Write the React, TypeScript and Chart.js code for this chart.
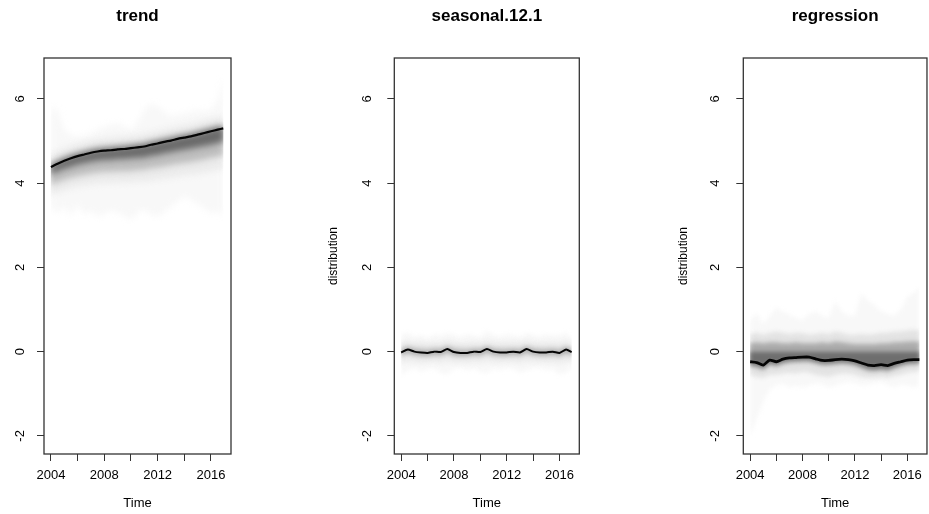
import React, { useEffect, useRef } from "react";
import { Chart, registerables } from "chart.js";

Chart.register(...registerables);

const FONT = '"Liberation Sans", Arial, Helvetica, sans-serif';

const TIME = [2004, 2004.5, 2005, 2005.5, 2006, 2006.5, 2007, 2007.5, 2008, 2008.5, 2009, 2009.5, 2010, 2010.5, 2011, 2011.5, 2012, 2012.5, 2013, 2013.5, 2014, 2014.5, 2015, 2015.5, 2016, 2016.5, 2016.92];
const X_TICKS = [2004, 2006, 2008, 2010, 2012, 2014, 2016];
const X_LABELS = [2004, 2008, 2012, 2016];
const Y_TICKS = [-2, 0, 2, 4, 6];

// ---- trend ----
const trendMedian = [4.38, 4.46, 4.53, 4.59, 4.64, 4.68, 4.72, 4.75, 4.77, 4.78, 4.80, 4.81, 4.83, 4.85, 4.87, 4.91, 4.94, 4.98, 5.01, 5.05, 5.08, 5.11, 5.15, 5.19, 5.23, 5.27, 5.30];
const trendHi4 = [4.42, 4.50, 4.57, 4.63, 4.68, 4.72, 4.76, 4.79, 4.81, 4.82, 4.84, 4.85, 4.87, 4.89, 4.91, 4.95, 4.98, 5.02, 5.05, 5.09, 5.12, 5.15, 5.19, 5.23, 5.27, 5.31, 5.34];
const trendHi3 = [4.48, 4.56, 4.63, 4.69, 4.74, 4.78, 4.82, 4.85, 4.87, 4.88, 4.90, 4.91, 4.93, 4.95, 4.97, 5.01, 5.04, 5.08, 5.11, 5.15, 5.18, 5.21, 5.25, 5.29, 5.33, 5.37, 5.40];
const trendHi2 = [4.68, 4.76, 4.83, 4.89, 4.94, 4.98, 5.02, 5.05, 5.07, 5.08, 5.10, 5.11, 5.13, 5.15, 5.17, 5.21, 5.24, 5.28, 5.31, 5.35, 5.38, 5.41, 5.45, 5.49, 5.53, 5.57, 5.60];
const trendHi1 = [5.81, 5.74, 5.26, 5.15, 5.10, 5.12, 5.17, 5.28, 5.34, 5.40, 5.42, 5.35, 5.26, 5.45, 5.74, 5.90, 5.82, 5.70, 5.58, 5.62, 5.66, 5.70, 5.74, 5.70, 5.74, 5.97, 6.53];
const trendLo4 = [4.20, 4.28, 4.34, 4.39, 4.44, 4.47, 4.51, 4.53, 4.55, 4.55, 4.57, 4.57, 4.59, 4.60, 4.61, 4.65, 4.67, 4.71, 4.73, 4.77, 4.79, 4.82, 4.85, 4.88, 4.91, 4.95, 4.97];
const trendLo3 = [3.95, 4.02, 4.08, 4.13, 4.17, 4.20, 4.23, 4.25, 4.27, 4.27, 4.28, 4.28, 4.29, 4.31, 4.32, 4.35, 4.37, 4.40, 4.43, 4.46, 4.48, 4.50, 4.53, 4.56, 4.60, 4.63, 4.65];
const trendLo2 = [3.70, 3.77, 3.83, 3.88, 3.92, 3.94, 3.97, 3.99, 4.00, 4.00, 4.01, 4.01, 4.02, 4.03, 4.03, 4.06, 4.08, 4.11, 4.13, 4.16, 4.18, 4.20, 4.22, 4.25, 4.28, 4.31, 4.33];
const trendLo1 = [3.43, 3.27, 3.47, 3.20, 3.50, 3.25, 3.35, 3.20, 3.28, 3.35, 3.30, 3.22, 3.12, 3.30, 3.38, 3.25, 3.20, 3.30, 3.45, 3.55, 3.70, 3.60, 3.50, 3.40, 3.27, 3.35, 3.20];

// ---- seasonal.12.1 ----
const seasMedian = [-0.02, 0.05, 0.00, -0.02, -0.03, 0.00, -0.01, 0.06, -0.01, -0.03, -0.03, 0.00, -0.01, 0.06, 0.00, -0.02, -0.02, 0.00, -0.02, 0.06, 0.00, -0.02, -0.02, 0.00, -0.03, 0.05, -0.01];
const seasHi4 = [0.02, 0.09, 0.04, 0.02, 0.01, 0.04, 0.03, 0.10, 0.03, 0.01, 0.01, 0.04, 0.03, 0.10, 0.04, 0.02, 0.02, 0.04, 0.02, 0.10, 0.04, 0.02, 0.02, 0.04, 0.01, 0.09, 0.03];
const seasHi3 = [0.12, 0.16, 0.13, 0.12, 0.11, 0.13, 0.12, 0.17, 0.13, 0.12, 0.11, 0.13, 0.12, 0.17, 0.13, 0.12, 0.12, 0.13, 0.12, 0.17, 0.13, 0.12, 0.12, 0.13, 0.11, 0.16, 0.12];
const seasHi2 = [0.25, 0.28, 0.24, 0.26, 0.22, 0.25, 0.24, 0.30, 0.26, 0.23, 0.24, 0.26, 0.24, 0.30, 0.27, 0.24, 0.25, 0.26, 0.24, 0.30, 0.26, 0.24, 0.25, 0.26, 0.24, 0.29, 0.25];
const seasHi1 = [0.40, 0.45, 0.35, 0.40, 0.32, 0.42, 0.38, 0.45, 0.40, 0.35, 0.42, 0.38, 0.35, 0.50, 0.40, 0.36, 0.42, 0.38, 0.35, 0.44, 0.40, 0.36, 0.42, 0.38, 0.40, 0.45, 0.35];
const seasLo4 = [-0.07, 0.00, -0.05, -0.07, -0.08, -0.05, -0.06, 0.01, -0.06, -0.08, -0.08, -0.05, -0.06, 0.01, -0.05, -0.07, -0.07, -0.05, -0.07, 0.01, -0.05, -0.07, -0.07, -0.05, -0.08, 0.00, -0.06];
const seasLo3 = [-0.15, -0.10, -0.14, -0.15, -0.16, -0.14, -0.15, -0.10, -0.15, -0.16, -0.16, -0.14, -0.15, -0.10, -0.14, -0.15, -0.15, -0.14, -0.15, -0.10, -0.14, -0.15, -0.16, -0.14, -0.16, -0.11, -0.15];
const seasLo2 = [-0.32, -0.26, -0.28, -0.30, -0.28, -0.27, -0.30, -0.26, -0.29, -0.28, -0.30, -0.27, -0.29, -0.26, -0.28, -0.29, -0.27, -0.28, -0.30, -0.26, -0.28, -0.27, -0.29, -0.28, -0.32, -0.27, -0.28];
const seasLo1 = [-0.58, -0.45, -0.40, -0.48, -0.42, -0.40, -0.50, -0.55, -0.42, -0.38, -0.45, -0.40, -0.48, -0.52, -0.40, -0.44, -0.38, -0.42, -0.50, -0.45, -0.40, -0.38, -0.45, -0.42, -0.55, -0.50, -0.40];

// ---- regression ----
const regMedian = [-0.24, -0.26, -0.32, -0.20, -0.24, -0.18, -0.15, -0.14, -0.13, -0.13, -0.17, -0.21, -0.21, -0.19, -0.18, -0.19, -0.22, -0.27, -0.32, -0.33, -0.31, -0.33, -0.28, -0.24, -0.20, -0.19, -0.19];
const regHi4 = [0, 0, 0, 0, 0, 0, 0, 0, 0, 0, 0, 0, 0, 0, 0, 0, 0, 0, 0, 0, 0, 0, 0, 0, 0, 0, 0];
const regHi3 = [0.20, 0.22, 0.20, 0.22, 0.22, 0.20, 0.20, 0.22, 0.20, 0.20, 0.20, 0.22, 0.20, 0.24, 0.22, 0.20, 0.18, 0.18, 0.18, 0.18, 0.20, 0.20, 0.22, 0.22, 0.24, 0.24, 0.24];
const regHi2 = [0.42, 0.45, 0.40, 0.45, 0.48, 0.45, 0.42, 0.45, 0.44, 0.40, 0.42, 0.45, 0.42, 0.48, 0.45, 0.40, 0.40, 0.42, 0.40, 0.42, 0.45, 0.45, 0.48, 0.48, 0.50, 0.52, 0.50];
const regHi1 = [0.75, 0.92, 0.65, 0.85, 1.05, 0.95, 0.88, 0.80, 0.75, 0.90, 0.95, 0.85, 0.80, 1.20, 0.95, 0.85, 0.85, 1.40, 1.20, 1.10, 0.95, 0.90, 0.85, 1.00, 1.30, 1.40, 1.52];
const regLo4 = [-0.29, -0.31, -0.37, -0.25, -0.29, -0.23, -0.20, -0.19, -0.18, -0.18, -0.22, -0.26, -0.26, -0.24, -0.23, -0.24, -0.27, -0.33, -0.39, -0.40, -0.38, -0.40, -0.34, -0.29, -0.25, -0.24, -0.24];
const regLo3 = [-0.36, -0.38, -0.44, -0.32, -0.36, -0.30, -0.27, -0.26, -0.25, -0.25, -0.29, -0.33, -0.33, -0.31, -0.30, -0.31, -0.34, -0.40, -0.46, -0.47, -0.45, -0.47, -0.41, -0.36, -0.32, -0.31, -0.31];
const regLo2 = [-0.55, -0.60, -0.62, -0.55, -0.55, -0.52, -0.50, -0.52, -0.48, -0.50, -0.55, -0.58, -0.60, -0.55, -0.52, -0.52, -0.55, -0.60, -0.62, -0.62, -0.60, -0.62, -0.58, -0.55, -0.50, -0.48, -0.48];
const regLo1 = [-2.00, -1.60, -1.20, -0.90, -0.80, -0.75, -0.85, -0.80, -0.85, -0.80, -0.75, -0.78, -0.85, -0.80, -0.75, -0.72, -0.75, -0.80, -0.78, -0.75, -0.72, -0.80, -0.85, -0.78, -0.80, -0.85, -0.80];

type Spec = {
  title: string;
  yTitle: string | null;
  left: number;
  width: number;
  areaLeft: number;
  areaRight: number;
  yLabX: number;
  yTitleX: number;
  median: number[];
  hi: number[][];
  lo: number[][];
  colors: string[];
  lineWidth: number;
  blur: number;
};

const SPECS: Spec[] = [
  {
    title: "trend", yTitle: null, left: 0, width: 310, areaLeft: 44, areaRight: 231, yLabX: 20.7, yTitleX: 0,
    median: trendMedian,
    hi: [trendHi1, trendHi2, trendHi3, trendHi4],
    lo: [trendLo1, trendLo2, trendLo3, trendLo4],
    colors: ["#f8f8f8", "#ebebeb", "#bdbdbd", "#6a6a6a"],
    lineWidth: 2.2,
    blur: 3,
  },
  {
    title: "seasonal.12.1", yTitle: "distribution", left: 310, width: 310, areaLeft: 84.3, areaRight: 269.3, yLabX: 57, yTitleX: 24,
    median: seasMedian,
    hi: [seasHi1, seasHi2, seasHi3, seasHi4],
    lo: [seasLo1, seasLo2, seasLo3, seasLo4],
    colors: ["#f8f8f8", "#efefef", "#d9d9d9", "#a2a2a2"],
    lineWidth: 2,
    blur: 2,
  },
  {
    title: "regression", yTitle: "distribution", left: 620, width: 309, areaLeft: 123.3, areaRight: 308.3, yLabX: 95.8, yTitleX: 63.3,
    median: regMedian,
    hi: [regHi1, regHi2, regHi3, regHi4],
    lo: [regLo1, regLo2, regLo3, regLo4],
    colors: ["#f8f8f8", "#e3e3e3", "#acacac", "#6e6e6e"],
    lineWidth: 2.8,
    blur: 2,
  },
];

function Panel({ spec }: { spec: Spec }) {
  const ref = useRef<HTMLCanvasElement>(null);

  useEffect(() => {
    const canvas = ref.current;
    if (!canvas) return;
    const mk = (arr: number[]) => arr.map((y, i) => ({ x: TIME[i], y }));
    const band = (arr: number[], color: string, fill: any) => ({
      data: mk(arr),
      borderColor: "rgba(0,0,0,0)",
      borderWidth: 0,
      backgroundColor: color,
      fill,
      pointRadius: 0,
      tension: 0,
    });
    const datasets: any[] = [
      {
        data: mk(spec.median),
        borderColor: "#050505",
        borderWidth: spec.lineWidth,
        fill: false,
        pointRadius: 0,
        tension: 0.2,
      },
    ];
    for (let k = 3; k >= 0; k--) {
      datasets.push(band(spec.hi[k], spec.colors[k], "+1"));
      datasets.push(band(spec.lo[k], spec.colors[k], false));
    }

    // soften the edges of the quantile bands (not the median line)
    const blurPlugin = {
      id: "bandBlur",
      beforeDatasetsDraw(chart: any) {
        chart.ctx.filter = `blur(${spec.blur}px)`;
      },
      afterDatasetDraw(chart: any, args: any) {
        if (args.index === 1) chart.ctx.filter = "none";
      },
      afterDatasetsDraw(chart: any) {
        chart.ctx.filter = "none";
      },
    };

    const boxPlugin = {
      id: "rbox",
      afterDraw(chart: any) {
        const { ctx, chartArea } = chart;
        const ys = chart.scales.y;
        ctx.save();
        ctx.filter = "none";
        ctx.strokeStyle = "#333";
        ctx.lineWidth = 1.3;
        ctx.strokeRect(chartArea.left, chartArea.top, chartArea.right - chartArea.left, chartArea.bottom - chartArea.top);
        ctx.fillStyle = "#000";
        ctx.font = `13px ${FONT}`;
        ctx.textAlign = "center";
        ctx.textBaseline = "middle";
        Y_TICKS.forEach((v) => {
          const y = ys.getPixelForValue(v);
          ctx.save();
          ctx.translate(spec.yLabX, y);
          ctx.rotate(-Math.PI / 2);
          ctx.fillText(String(v), 0, 0);
          ctx.restore();
        });
        ctx.restore();
      },
    };

    const chart = new Chart(canvas, {
      type: "line",
      data: { datasets },
      options: {
        responsive: false,
        animation: false,
        devicePixelRatio: 1,
        events: [],
        layout: { padding: { left: 0, right: spec.width - spec.areaRight, top: 0, bottom: 0 } },
        plugins: {
          legend: { display: false },
          tooltip: { enabled: false },
          title: {
            display: true,
            text: spec.title,
            fullSize: false,
            color: "#000",
            font: { family: FONT, size: 17, weight: "bold" },
            padding: { top: 6.5, bottom: 31.1 },
          },
        },
        scales: {
          x: {
            type: "linear",
            min: 2003.48,
            max: 2017.5,
            afterBuildTicks: (s: any) => {
              s.ticks = X_TICKS.map((v) => ({ value: v }));
            },
            afterFit: (s: any) => {
              s.height = 60;
            },
            grid: { drawOnChartArea: false, drawTicks: true, tickLength: 7, color: "#333", lineWidth: 1 },
            border: { display: false },
            ticks: {
              autoSkip: false,
              maxRotation: 0,
              minRotation: 0,
              padding: 7,
              color: "#000",
              font: { family: FONT, size: 13 },
              callback: (v: any) => (X_LABELS.includes(Number(v)) ? String(v) : ""),
            },
            title: {
              display: true,
              text: "Time",
              color: "#000",
              font: { family: FONT, size: 13 },
              padding: { top: 0, bottom: 3 },
            },
          },
          y: {
            type: "linear",
            min: -2.43,
            max: 6.97,
            afterBuildTicks: (s: any) => {
              s.ticks = Y_TICKS.map((v) => ({ value: v }));
            },
            afterFit: (s: any) => {
              s.width = spec.areaLeft;
            },
            grid: { drawOnChartArea: false, drawTicks: true, tickLength: 7, color: "#333", lineWidth: 1 },
            border: { display: false },
            ticks: { display: false },
            title: {
              display: !!spec.yTitle,
              text: spec.yTitle || "",
              color: "#000",
              font: { family: FONT, size: 12 },
              padding: { top: spec.yTitleX - 7.2, bottom: 0 },
            },
          },
        },
      } as any,
      plugins: [blurPlugin, boxPlugin],
    });
    return () => chart.destroy();
  }, [spec]);

  return (
    <canvas
      ref={ref}
      width={spec.width}
      height={514}
      style={{ position: "absolute", left: spec.left, top: 0, width: spec.width, height: 514 }}
    />
  );
}

export default function App() {
  return (
    <div style={{ position: "absolute", left: 0, top: 0, width: 929, height: 514, background: "#fff" }}>
      {SPECS.map((s) => (
        <Panel key={s.title} spec={s} />
      ))}
    </div>
  );
}
